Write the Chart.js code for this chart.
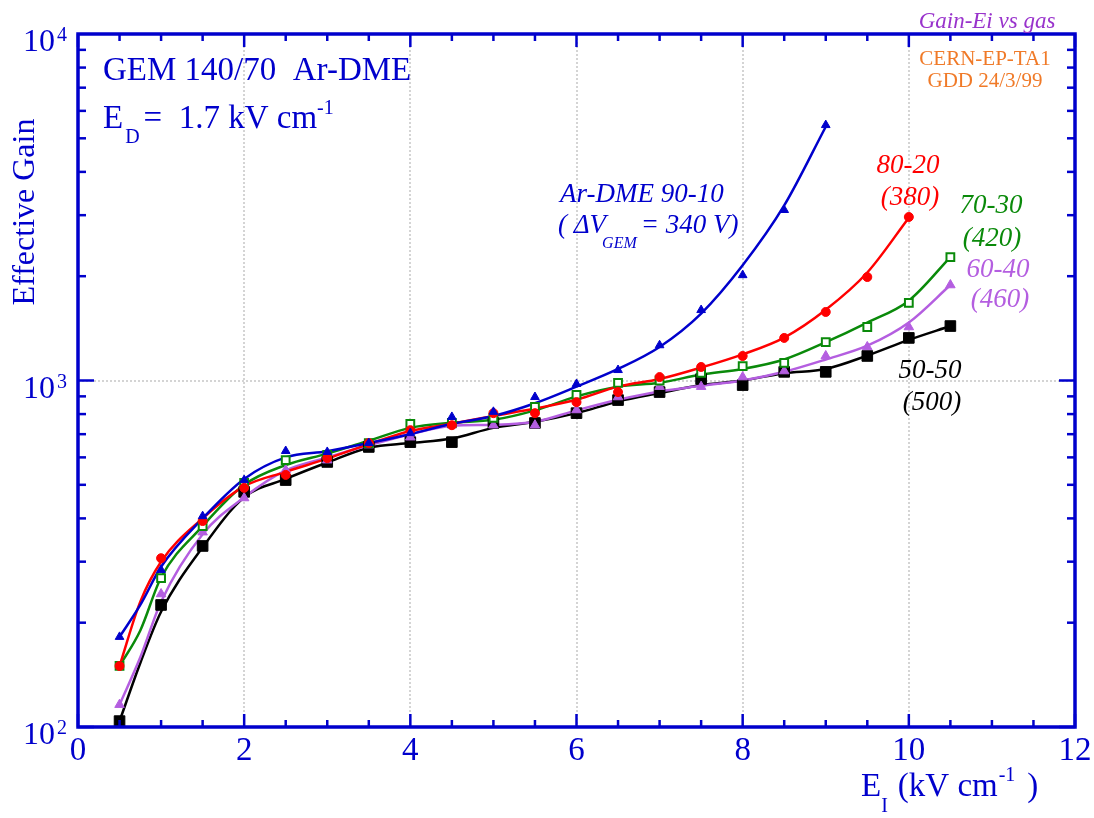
<!DOCTYPE html>
<html><head><meta charset="utf-8">
<script src="https://cdn.jsdelivr.net/npm/chart.js@4/dist/chart.umd.min.js"></script>
<style>html,body{margin:0;padding:0;background:#fff;}canvas{display:block;}</style>
</head><body>
<canvas id="c" width="1094" height="818"></canvas>
<script>
// ---- data ----
const xTickLabels = [0, 2, 4, 6, 8, 10, 12];
const yTickExponents = [2, 3, 4];

// markers (measured points)
const xBlueMk = [0.5,1,1.5,2,2.5,3,3.5,4,4.5,5,5.5,6,6.5,7,7.5,8,8.5,9];
const yBlueMk = [182,284,406,516,626,622,660,705,785,812,896,977,1072,1264,1597,2014,3105,5460];
const xRedMk = [0.5,1,1.5,2,2.5,3,3.5,4,4.5,5,5.5,6,6.5,7,7.5,8,8.5,9,9.5,10];
const yRedMk = [150,307,393,490,534,597,660,719,743,805,805,866,926,1023,1094,1177,1327,1577,1989,2964];
const xGreenMk = [0.5,1,1.5,2,2.5,3,3.5,4,4.5,5,5.5,6,6.5,7,7.5,8,8.5,9,9.5,10,10.5];
const yGreenMk = [150,269,380,506,589,610,660,749,755,780,839,909,985,1000,1052,1101,1124,1291,1427,1674,2270];
const xPurpleMk = [0.5,1,1.5,2,2.5,3,3.5,4,4.5,5,5.5,6,6.5,7,7.5,8,8.5,9,9.5,10,10.5];
const yPurpleMk = [116,242,365,458,552,589,651,686,743,743,743,822,896,960,960,1023,1065,1177,1250,1427,1886];
const xBlackMk = [0.5,1,1.5,2,2.5,3,3.5,4,4.5,5,5.5,6,6.5,7,7.5,8,8.5,9,9.5,10,10.5];
const yBlackMk = [104,225,333,477,516,582,643,664,664,754,754,805,878,926,1010,970,1059,1059,1177,1327,1436];

// fitted curves
const xBlueLn = [0.5,0.75,1,1.5,2,2.5,3,3.5,4,4.5,5,5.5,6,6.5,7,7.5,8,8.5,9];
const yBlueLn = [182,225,290,400,520,600,625,660,700,750,790,860,960,1080,1250,1560,2150,3200,5400];
const xRedLn = [0.5,0.75,1,1.5,2,2.5,3,3.5,4,4.5,5,5.5,6,6.5,7,7.5,8,8.5,9,9.5,10];
const yRedLn = [150,230,300,400,495,545,595,655,715,750,790,830,880,960,1010,1090,1190,1330,1600,2050,2950];
const xGreenLn = [0.5,0.75,1,1.5,2,2.5,3,3.5,4,4.5,5,5.5,6,6.5,7,7.5,8,8.5,9,9.5,10,10.5];
const yGreenLn = [150,190,270,380,500,570,615,670,730,755,770,820,900,960,985,1040,1080,1150,1290,1470,1700,2270];
const xPurpleLn = [0.5,0.75,1,1.5,2,2.5,3,3.5,4,4.5,5,5.5,6,6.5,7,7.5,8,8.5,9,9.5,10,10.5];
const yPurpleLn = [116,159,230,360,460,550,600,650,700,740,745,760,820,880,930,965,1000,1060,1150,1260,1470,1886];
const xBlackLn = [0.5,0.75,1,1.5,2,2.5,3,3.5,4,4.5,5,5.5,6,6.5,7,7.5,8,8.5,9,9.5,10,10.5];
const yBlackLn = [104,153,215,330,460,520,580,640,660,680,730,760,805,870,920,970,1000,1050,1080,1180,1310,1436];

const BLUE = '#0000cc', RED = '#ff0000', GREEN = '#0a8a0a', PURPLE = '#b45ee0', BLACK = '#000000';
const FONT = '"Liberation Serif", "Times New Roman", serif';

function pts(xs, ys) { return xs.map((x, i) => ({x: x, y: ys[i]})); }
function lineDs(xs, ys, color) {
  return {type:'line', data: pts(xs, ys), borderColor: color, borderWidth: 2.5, pointRadius: 0,
    cubicInterpolationMode: 'monotone', fill: false, order: 2};
}
function markDs(xs, ys, color, style, filled, r) {
  return {type:'line', data: pts(xs, ys), showLine: false, borderColor: color,
    backgroundColor: filled ? color : '#ffffff', pointBackgroundColor: filled ? color : '#ffffff',
    pointBorderColor: color, pointBorderWidth: filled ? 1 : 2, pointStyle: style, pointRadius: r, order: 1};
}

const framePlugin = {
  id: 'frame',
  beforeDatasetsDraw(chart) {
    const {ctx, chartArea: a, scales: {x, y}} = chart;
    ctx.save();
    ctx.strokeStyle = '#d4d4d4'; ctx.lineWidth = 2; ctx.setLineDash([2, 2]);
    [2,4,6,8,10].forEach(v => { const px = Math.round(x.getPixelForValue(v));
      ctx.beginPath(); ctx.moveTo(px, a.top); ctx.lineTo(px, a.bottom); ctx.stroke(); });
    const py = Math.round(y.getPixelForValue(1000));
    ctx.beginPath(); ctx.moveTo(a.left, py); ctx.lineTo(a.right, py); ctx.stroke();
    ctx.restore();
  },
  afterDatasetsDraw(chart) {
    const {ctx, chartArea: a, scales: {x, y}} = chart;
    ctx.save();
    ctx.strokeStyle = BLUE; ctx.lineWidth = 3.5;
    ctx.strokeRect(a.left, a.top, a.right - a.left, a.bottom - a.top);
    ctx.lineWidth = 2.5;
    // x ticks
    for (let k = 0; k <= 24; k++) {
      const v = k * 0.5; const px = x.getPixelForValue(v);
      const len = (k % 4 === 0) ? 13 : 7;
      ctx.beginPath(); ctx.moveTo(px, a.bottom); ctx.lineTo(px, a.bottom - len); ctx.stroke();
      ctx.beginPath(); ctx.moveTo(px, a.top); ctx.lineTo(px, a.top + len); ctx.stroke();
    }
    // y ticks
    for (let e = 2; e <= 3; e++) {
      for (let m = 1; m <= 9; m++) {
        const v = m * Math.pow(10, e); const py = y.getPixelForValue(v);
        const len = (m === 1) ? 16 : 8;
        ctx.beginPath(); ctx.moveTo(a.left, py); ctx.lineTo(a.left + len, py); ctx.stroke();
        ctx.beginPath(); ctx.moveTo(a.right, py); ctx.lineTo(a.right - len, py); ctx.stroke();
      }
    }
    // tick labels
    ctx.fillStyle = BLUE; ctx.textBaseline = 'alphabetic';
    ctx.font = '33px ' + FONT; ctx.textAlign = 'center';
    xTickLabels.forEach(v => ctx.fillText(String(v), x.getPixelForValue(v), a.bottom + 33));
    yTickExponents.forEach(e => {
      const py = y.getPixelForValue(Math.pow(10, e));
      ctx.font = '32px ' + FONT; ctx.textAlign = 'right';
      ctx.fillText('10', a.left - 23, py + 17);
      ctx.font = '20px ' + FONT; ctx.textAlign = 'left';
      ctx.fillText(String(e), a.left - 21, py + 7);
    });
    ctx.restore();
  },
  afterDraw(chart) {
    const {ctx} = chart;
    ctx.save();
    ctx.fillStyle = BLUE; ctx.textBaseline = 'alphabetic'; ctx.textAlign = 'left';
    // y axis title
    ctx.save(); ctx.translate(34, 212); ctx.rotate(-Math.PI / 2);
    ctx.font = '32px ' + FONT; ctx.textAlign = 'center'; ctx.fillText('Effective Gain', 0, 0); ctx.restore();
    // x axis title
    ctx.font = '33px ' + FONT;
    let xx = 861; ctx.fillText('E', xx, 796); xx += ctx.measureText('E').width;
    ctx.font = '20px ' + FONT; ctx.fillText('I', xx, 812); xx += ctx.measureText('I').width + 10;
    ctx.font = '33px ' + FONT; ctx.fillText('(kV cm', xx, 796); xx += ctx.measureText('(kV cm').width + 1;
    ctx.font = '20px ' + FONT; ctx.fillText('-1', xx, 781); xx += ctx.measureText('-1').width + 12;
    ctx.font = '33px ' + FONT; ctx.fillText(')', xx, 796);
    // header texts
    ctx.font = '33px ' + FONT; ctx.fillText('GEM 140/70  Ar-DME', 103, 80);
    ctx.fillText('E', 103, 128); xx = 103 + ctx.measureText('E').width + 2;
    ctx.font = '20px ' + FONT; ctx.fillText('D', xx, 143); xx += ctx.measureText('D').width + 4;
    ctx.font = '33px ' + FONT; ctx.fillText('=  1.7 kV cm', xx, 128); xx += ctx.measureText('=  1.7 kV cm').width;
    ctx.font = '20px ' + FONT; ctx.fillText('-1', xx, 114);
    // curve labels
    const it = (s, px, py, col, size) => { ctx.font = 'italic ' + (size || 27) + 'px ' + FONT; ctx.fillStyle = col; ctx.fillText(s, px, py); };
    it('Ar-DME 90-10', 560, 202, BLUE);
    ctx.font = 'italic 27px ' + FONT; ctx.fillStyle = BLUE;
    xx = 558; ctx.fillText('( \u0394V', xx, 233); xx += ctx.measureText('( \u0394V').width - 4;
    ctx.font = 'italic 16px ' + FONT; ctx.fillText('GEM', xx, 248); xx += ctx.measureText('GEM').width + 4;
    ctx.font = 'italic 27px ' + FONT; ctx.fillText('= 340 V)', xx, 233);
    ctx.textAlign = 'center';
    it('80-20', 908, 173, RED); it('(380)', 910, 205, RED);
    it('70-30', 991, 213, GREEN); it('(420)', 992, 246, GREEN);
    it('60-40', 998, 277, PURPLE); it('(460)', 1000, 307, PURPLE);
    it('50-50', 930, 378, BLACK); it('(500)', 932, 410, BLACK);
    it('Gain-Ei vs gas', 987, 28, '#9933cc', 23);
    ctx.font = '21px ' + FONT; ctx.fillStyle = '#f07a28';
    ctx.fillText('CERN-EP-TA1', 985, 65); ctx.fillText('GDD 24/3/99', 985, 87);
    ctx.restore();
  }
};

new Chart(document.getElementById('c'), {
  data: { datasets: [
    lineDs(xBlueLn, yBlueLn, BLUE), lineDs(xRedLn, yRedLn, RED), lineDs(xGreenLn, yGreenLn, GREEN),
    lineDs(xPurpleLn, yPurpleLn, PURPLE), lineDs(xBlackLn, yBlackLn, BLACK),
    markDs(xBlueMk, yBlueMk, BLUE, 'triangle', true, 5),
    markDs(xRedMk, yRedMk, RED, 'circle', true, 4.5),
    markDs(xGreenMk, yGreenMk, GREEN, 'rect', false, 5.5),
    markDs(xPurpleMk, yPurpleMk, PURPLE, 'triangle', true, 5.5),
    markDs(xBlackMk, yBlackMk, BLACK, 'rect', true, 7.5)
  ]},
  options: {
    responsive: false, animation: false, devicePixelRatio: 1,
    layout: { padding: { left: 78, right: 19, top: 34, bottom: 91 } },
    plugins: { legend: { display: false }, tooltip: { enabled: false }, title: { display: false } },
    scales: {
      x: { type: 'linear', min: 0, max: 12, display: false },
      y: { type: 'logarithmic', min: 100, max: 10000, display: false }
    }
  },
  plugins: [framePlugin]
});
</script>
</body></html>
